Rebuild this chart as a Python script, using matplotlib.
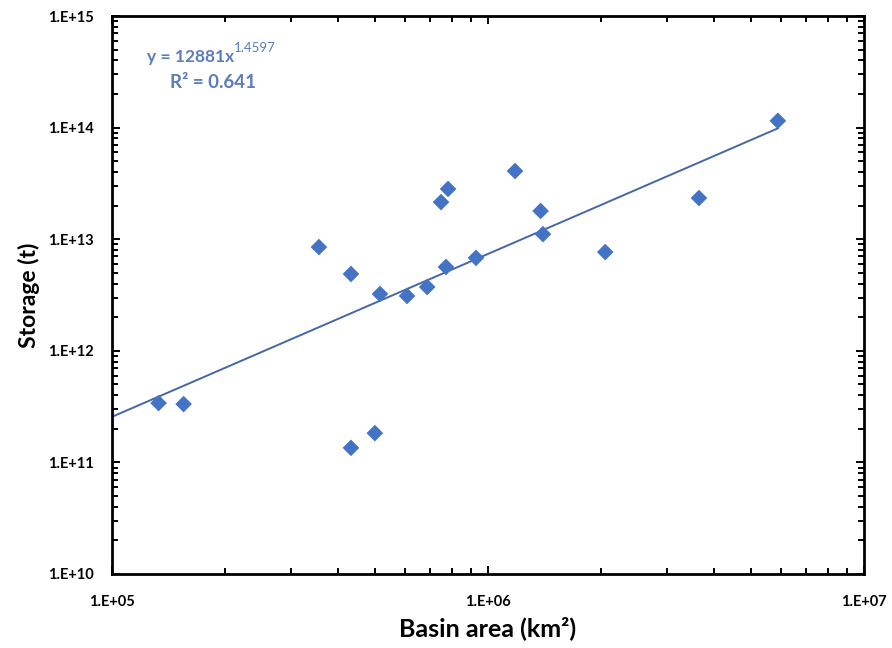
import numpy as np
import matplotlib
matplotlib.use('Agg')
from matplotlib import pyplot as plt
from matplotlib.ticker import LogLocator, NullFormatter, FixedLocator

plt.rcParams['font.family'] = ['Lato', 'DejaVu Sans']

# basin area (km2) and storage (t)
area = [1.33e5, 1.55e5, 3.55e5, 4.32e5, 5.16e5, 6.09e5, 6.89e5, 7.5e5, 7.83e5,
        7.73e5, 9.29e5, 1.18e6, 1.38e6, 1.40e6, 5.0e5, 4.32e5, 2.05e6, 3.64e6, 5.9e6]
storage = [3.4e11, 3.33e11, 8.5e12, 4.88e12, 3.23e12, 3.1e12, 3.73e12, 2.15e13, 2.82e13,
           5.64e12, 6.8e12, 4.08e13, 1.79e13, 1.11e13, 1.83e11, 1.35e11, 7.67e12, 2.34e13, 1.15e14]

# power trend from the chart
coef = 12881
expo = 1.4597
r2 = 0.641

x_ticks = [1e5, 1e6, 1e7]
x_labels = ['1.E+05', '1.E+06', '1.E+07']
y_ticks = [1e10, 1e11, 1e12, 1e13, 1e14, 1e15]
y_labels = ['1.E+10', '1.E+11', '1.E+12', '1.E+13', '1.E+14', '1.E+15']

fig = plt.figure(figsize=(8.92, 6.48), dpi=100)
ax = fig.add_axes([0.1256, 0.1142, 0.8430, 0.8611])

xf = np.logspace(5, np.log10(max(area)), 200)
ax.plot(xf, coef * xf ** expo, color='#4567a8', lw=1.4, zorder=2)
ax.scatter(area, storage, marker='D', s=72, color='#4472c4', edgecolors='none', zorder=3)

ax.set_xscale('log')
ax.set_yscale('log')
ax.set_xlim(1e5, 1e7)
ax.set_ylim(1e10, 1e15)

ax.xaxis.set_major_locator(FixedLocator(x_ticks))
ax.set_xticklabels(x_labels)
ax.yaxis.set_major_locator(FixedLocator(y_ticks))
ax.set_yticklabels(y_labels)
ax.xaxis.set_minor_locator(LogLocator(base=10, subs=np.arange(2, 10)))
ax.yaxis.set_minor_locator(LogLocator(base=10, subs=np.arange(2, 10)))
ax.xaxis.set_minor_formatter(NullFormatter())
ax.yaxis.set_minor_formatter(NullFormatter())

ax.tick_params(which='both', direction='in', top=True, right=True, width=1.4)
ax.tick_params(which='major', length=6, labelsize=10.5)
ax.tick_params(which='minor', length=4)
ax.tick_params(axis='x', pad=15)
ax.tick_params(axis='y', pad=13)
for lab in ax.get_xticklabels() + ax.get_yticklabels():
    lab.set_fontweight('bold')

for s in ax.spines.values():
    s.set_linewidth(2)

ax.set_xlabel('Basin area (km²)', fontsize=18, fontweight='bold', labelpad=5)
ax.set_ylabel('Storage (t)', fontsize=16.5, fontweight='bold', labelpad=6)

ax.text(0.047, 0.918, 'y = %dx' % coef, transform=ax.transAxes, color='#5b7cbd',
        fontsize=12.5, fontweight='bold', va='baseline')
ax.text(0.162, 0.936, '%.4f' % expo, transform=ax.transAxes, color='#5b7cbd',
        fontsize=9.5, va='baseline')
ax.text(0.077, 0.871, 'R² = %.3f' % r2, transform=ax.transAxes, color='#5b7cbd',
        fontsize=13.5, fontweight='bold', va='baseline')

fig.savefig('out.png', dpi=100)
